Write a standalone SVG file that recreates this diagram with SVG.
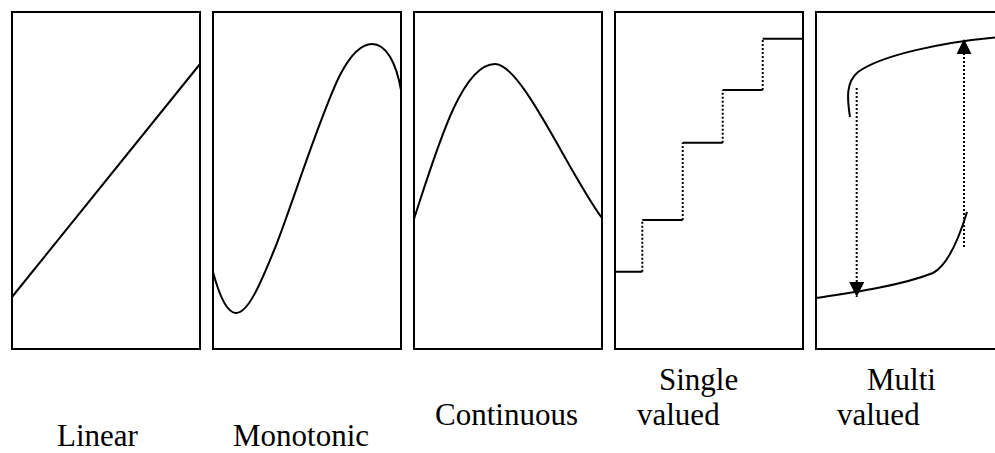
<svg xmlns="http://www.w3.org/2000/svg" width="995" height="453" viewBox="0 0 995 453">
<style>
.box{fill:none;stroke:#000;stroke-width:2}
.curve{fill:none;stroke:#000;stroke-width:2;stroke-linecap:butt}
.dot{fill:none;stroke:#000;stroke-width:2;stroke-dasharray:2,2}
.lbl{font-family:"Liberation Serif","Times New Roman",serif;font-size:31px;fill:#000}
</style>
<defs>
<marker id="tri" markerUnits="userSpaceOnUse" markerWidth="16" markerHeight="16" refX="15" refY="7.5" orient="auto">
<path d="M0,0 L15,7.5 L0,15 z" fill="#000"/>
</marker>
</defs>
<rect width="995" height="453" fill="#fff"/>
<g id="linear">
<rect class="box" x="12" y="12" width="188" height="337"/>
<path class="curve" d="M12,297 L200,64"/>
<text class="lbl" x="57" y="446" font-family="Liberation Serif, serif">Linear</text>
</g>
<g id="monotonic">
<rect class="box" x="213" y="12" width="188" height="337"/>
<path class="curve" d="M213,272 C220,298 228,313 236,313 C248,313 260,285 275,248 S320,115 340,75 C352,52 362,44 372,44 C386,44 396,62 401,90"/>
<text class="lbl" x="233" y="446" font-family="Liberation Serif, serif">Monotonic</text>
</g>
<g id="continuous">
<rect class="box" x="414" y="12" width="188" height="337"/>
<path class="curve" d="M414,219 C438,145 462,64 495,64 C522,64 568,172 602,218"/>
<text class="lbl" x="435" y="425" font-family="Liberation Serif, serif">Continuous</text>
</g>
<g id="single-valued">
<rect class="box" x="615" y="12" width="188" height="337"/>
<path class="curve" d="M615,271.7 H642.3 M642.3,220 H682.7 M682.7,142.7 H722.7 M722.7,90 H762.7 M762.7,38.7 H803"/>
<path class="dot" d="M642.3,271.7 V220 M682.7,220 V142.7 M722.7,142.7 V90 M762.7,90 V38.7"/>
<text class="lbl" x="659" y="390" font-family="Liberation Serif, serif">Single</text>
<text class="lbl" x="637" y="425" font-family="Liberation Serif, serif">valued</text>
</g>
<g id="multi-valued">
<rect class="box" x="816" y="12" width="200" height="337"/>
<path class="curve" d="M850,117 C847,98 846,82 858,72 C880,56 940,42 1000,37"/>
<path class="curve" d="M816,298 C850,293 900,286 933,273 C948,265 960,235 967,212"/>
<text class="lbl" x="867" y="390" font-family="Liberation Serif, serif">Multi</text>
<text class="lbl" x="837" y="425" font-family="Liberation Serif, serif">valued</text>
</g>
<g id="connectors">
<path class="dot" d="M856.7,88 V297" marker-end="url(#tri)"/>
<path class="dot" d="M964,247 V39" marker-end="url(#tri)"/>
</g>
</svg>
